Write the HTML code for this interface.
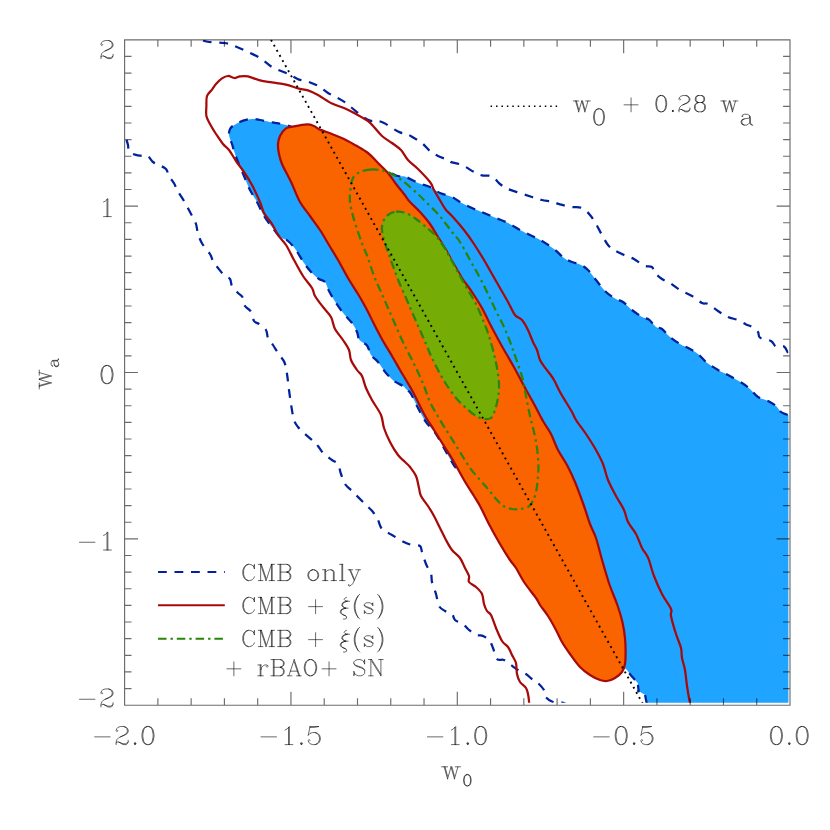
<!DOCTYPE html><html><head><meta charset="utf-8"><title>w0-wa contours</title>
<style>html,body{margin:0;padding:0;background:#fff;font-family:"Liberation Sans",sans-serif}svg{display:block}</style></head><body>
<svg width="830" height="830" viewBox="0 0 830 830">
<rect width="830" height="830" fill="#fff"/>
<defs><clipPath id="cp"><rect x="124.6" y="39.8" width="663.8" height="663.0"/></clipPath></defs>
<g clip-path="url(#cp)" fill="none" stroke-linejoin="round">
<path d="M229.0 135.0 C228.7 132.4 229.2 130.2 230.4 128.4 C231.6 126.6 233.7 125.3 236.0 124.0 C238.3 122.7 241.3 121.2 244.0 120.4 C246.7 119.6 249.3 119.1 252.0 119.0 C254.7 118.9 256.7 119.4 260.0 120.0 C263.3 120.6 267.7 121.6 272.0 122.4 C276.3 123.2 281.3 123.7 286.0 125.0 C290.7 126.3 294.3 127.8 300.0 130.0 C305.7 132.2 313.3 135.2 320.0 138.0 C326.7 140.8 333.3 143.3 340.0 147.0 C346.7 150.7 354.0 156.2 360.0 160.0 C366.0 163.8 371.3 168.0 376.0 170.0 C380.7 172.0 384.3 171.0 388.0 172.0 C391.7 173.0 395.0 175.2 398.0 176.0 C401.0 176.8 402.7 175.8 406.0 177.0 C409.3 178.2 414.0 181.3 418.0 183.0 C422.0 184.7 426.3 185.3 430.0 187.0 C433.7 188.7 436.3 191.3 440.0 193.0 C443.7 194.7 448.7 195.5 452.0 197.0 C455.3 198.5 456.7 200.2 460.0 202.0 C463.3 203.8 468.0 206.2 472.0 208.0 C476.0 209.8 480.0 211.3 484.0 213.0 C488.0 214.7 492.0 216.3 496.0 218.0 C500.0 219.7 504.0 221.0 508.0 223.0 C512.0 225.0 516.0 227.8 520.0 230.0 C524.0 232.2 528.3 234.2 532.0 236.0 C535.7 237.8 538.3 238.8 542.0 241.0 C545.7 243.2 550.3 246.2 554.0 249.0 C557.7 251.8 561.0 255.8 564.0 258.0 C567.0 260.2 569.3 260.9 572.0 262.0 C574.7 263.1 577.3 263.1 580.0 264.4 C582.7 265.7 585.3 267.4 588.0 270.0 C590.7 272.6 593.0 276.3 596.0 280.0 C599.0 283.7 602.7 288.8 606.0 292.0 C609.3 295.2 613.2 297.3 616.0 299.0 C618.8 300.7 620.3 300.2 623.0 302.0 C625.7 303.8 628.8 307.5 632.0 310.0 C635.2 312.5 639.2 315.4 642.0 317.0 C644.8 318.6 646.7 317.9 649.0 319.6 C651.3 321.3 653.8 325.4 656.0 327.0 C658.2 328.6 659.7 327.3 662.0 329.0 C664.3 330.7 667.0 334.5 670.0 337.0 C673.0 339.5 676.7 342.0 680.0 344.0 C683.3 346.0 687.0 347.3 690.0 349.0 C693.0 350.7 695.3 351.8 698.0 354.0 C700.7 356.2 702.7 359.3 706.0 362.0 C709.3 364.7 714.3 367.8 718.0 370.0 C721.7 372.2 724.0 372.8 728.0 375.0 C732.0 377.2 738.3 380.7 742.0 383.0 C745.7 385.3 747.3 386.7 750.0 389.0 C752.7 391.3 755.0 395.0 758.0 397.0 C761.0 399.0 765.0 399.5 768.0 401.0 C771.0 402.5 773.8 404.2 776.0 406.0 C778.2 407.8 779.3 410.6 781.0 412.0 C782.7 413.4 784.6 413.7 786.0 414.3 C787.4 414.9 788.8 415.3 789.4 415.5 C790.0 415.7 789.4 401.4 789.4 415.5 C789.4 429.6 789.4 469.2 789.4 500.0 C789.4 530.8 789.4 566.1 789.4 600.0 C789.4 633.9 789.4 686.2 789.4 703.5 C789.4 720.8 801.0 703.5 789.4 703.5 C777.8 703.5 743.7 703.5 720.0 703.5 C696.3 703.5 659.2 703.5 647.0 703.5 C634.8 703.5 647.1 703.6 647.0 703.5 C646.9 703.4 646.7 702.9 646.6 702.8 C646.5 702.7 646.9 704.1 646.6 702.8 C646.3 701.5 645.3 696.1 645.0 694.8 C644.7 693.5 646.1 695.4 645.0 694.8 C643.9 694.2 639.7 691.6 638.6 691.0 C637.5 690.4 638.7 692.3 638.6 691.0 C638.5 689.7 637.9 684.3 637.8 683.0 C637.7 681.7 638.8 684.2 637.8 683.0 C636.8 681.8 633.6 678.4 631.5 676.0 C629.4 673.6 627.2 669.1 625.0 668.4 C622.8 667.7 621.3 671.1 618.0 672.0 C614.7 672.9 610.5 676.0 605.0 674.0 C599.5 672.0 591.7 666.5 585.0 660.0 C578.3 653.5 571.7 644.2 565.0 635.0 C558.3 625.8 552.5 616.2 545.0 605.0 C537.5 593.8 527.5 579.7 520.0 568.0 C512.5 556.3 506.7 546.3 500.0 535.0 C493.3 523.7 486.2 510.2 480.0 500.0 C473.8 489.8 467.0 479.3 463.0 474.0 C459.0 468.7 457.7 469.7 456.0 468.0 C454.3 466.3 454.8 467.0 453.0 464.0 C451.2 461.0 447.8 455.0 445.0 450.0 C442.2 445.0 439.2 438.7 436.0 434.0 C432.8 429.3 429.0 426.3 426.0 422.0 C423.0 417.7 420.5 412.7 418.0 408.0 C415.5 403.3 413.0 397.2 411.0 394.0 C409.0 390.8 407.3 390.3 406.0 389.0 C404.7 387.7 405.0 387.3 403.0 386.0 C401.0 384.7 396.8 383.2 394.0 381.0 C391.2 378.8 388.7 376.2 386.0 373.0 C383.3 369.8 380.5 365.0 378.0 362.0 C375.5 359.0 372.8 357.8 371.0 355.0 C369.2 352.2 368.9 348.0 367.0 345.5 C365.1 343.0 361.2 342.2 359.5 340.0 C357.8 337.8 358.2 334.8 357.0 332.0 C355.8 329.2 354.2 326.0 352.0 323.0 C349.8 320.0 346.7 317.3 344.0 314.0 C341.3 310.7 338.5 306.8 336.0 303.0 C333.5 299.2 330.8 294.5 329.0 291.0 C327.2 287.5 326.7 284.0 325.0 282.0 C323.3 280.0 321.2 280.5 319.0 279.0 C316.8 277.5 314.5 275.7 312.0 273.0 C309.5 270.3 306.7 266.8 304.0 263.0 C301.3 259.2 298.7 253.7 296.0 250.0 C293.3 246.3 290.7 243.2 288.0 241.0 C285.3 238.8 282.7 239.3 280.0 237.0 C277.3 234.7 274.7 230.5 272.0 227.0 C269.3 223.5 266.5 220.2 264.0 216.0 C261.5 211.8 259.3 206.3 257.0 202.0 C254.7 197.7 252.2 194.3 250.0 190.0 C247.8 185.7 246.0 180.7 244.0 176.0 C242.0 171.3 239.6 166.0 238.0 162.0 C236.4 158.0 235.4 155.0 234.4 152.0 C233.4 149.0 232.9 146.8 232.0 144.0 C231.1 141.2 229.3 137.6 229.0 135.0Z" fill="#1fa5ff" stroke="none"/>
<path d="M456.0 468.0 C455.5 467.3 454.8 467.0 453.0 464.0 C451.2 461.0 447.8 455.0 445.0 450.0 C442.2 445.0 439.2 438.7 436.0 434.0 C432.8 429.3 429.0 426.3 426.0 422.0 C423.0 417.7 420.5 412.7 418.0 408.0 C415.5 403.3 413.0 397.2 411.0 394.0 C409.0 390.8 407.3 390.3 406.0 389.0 C404.7 387.7 405.0 387.3 403.0 386.0 C401.0 384.7 396.8 383.2 394.0 381.0 C391.2 378.8 388.7 376.2 386.0 373.0 C383.3 369.8 380.5 365.0 378.0 362.0 C375.5 359.0 372.8 357.8 371.0 355.0 C369.2 352.2 368.9 348.0 367.0 345.5 C365.1 343.0 361.2 342.2 359.5 340.0 C357.8 337.8 358.2 334.8 357.0 332.0 C355.8 329.2 354.2 326.0 352.0 323.0 C349.8 320.0 346.7 317.3 344.0 314.0 C341.3 310.7 338.5 306.8 336.0 303.0 C333.5 299.2 330.8 294.5 329.0 291.0 C327.2 287.5 326.7 284.0 325.0 282.0 C323.3 280.0 321.2 280.5 319.0 279.0 C316.8 277.5 314.5 275.7 312.0 273.0 C309.5 270.3 306.7 266.8 304.0 263.0 C301.3 259.2 298.7 253.7 296.0 250.0 C293.3 246.3 290.7 243.2 288.0 241.0 C285.3 238.8 282.7 239.3 280.0 237.0 C277.3 234.7 274.7 230.5 272.0 227.0 C269.3 223.5 266.5 220.2 264.0 216.0 C261.5 211.8 259.3 206.3 257.0 202.0 C254.7 197.7 252.2 194.3 250.0 190.0 C247.8 185.7 246.0 180.7 244.0 176.0 C242.0 171.3 239.6 166.0 238.0 162.0 C236.4 158.0 235.4 155.0 234.4 152.0 C233.4 149.0 232.9 146.8 232.0 144.0 C231.1 141.2 229.3 137.6 229.0 135.0 C228.7 132.4 229.2 130.2 230.4 128.4 C231.6 126.6 233.7 125.3 236.0 124.0 C238.3 122.7 241.3 121.2 244.0 120.4 C246.7 119.6 249.3 119.1 252.0 119.0 C254.7 118.9 256.7 119.4 260.0 120.0 C263.3 120.6 267.7 121.6 272.0 122.4 C276.3 123.2 281.3 123.7 286.0 125.0 C290.7 126.3 294.3 127.8 300.0 130.0 C305.7 132.2 313.3 135.2 320.0 138.0 C326.7 140.8 333.3 143.3 340.0 147.0 C346.7 150.7 354.0 156.2 360.0 160.0 C366.0 163.8 371.3 168.0 376.0 170.0 C380.7 172.0 384.3 171.0 388.0 172.0 C391.7 173.0 395.0 175.2 398.0 176.0 C401.0 176.8 402.7 175.8 406.0 177.0 C409.3 178.2 414.0 181.3 418.0 183.0 C422.0 184.7 426.3 185.3 430.0 187.0 C433.7 188.7 436.3 191.3 440.0 193.0 C443.7 194.7 448.7 195.5 452.0 197.0 C455.3 198.5 456.7 200.2 460.0 202.0 C463.3 203.8 468.0 206.2 472.0 208.0 C476.0 209.8 480.0 211.3 484.0 213.0 C488.0 214.7 492.0 216.3 496.0 218.0 C500.0 219.7 504.0 221.0 508.0 223.0 C512.0 225.0 516.0 227.8 520.0 230.0 C524.0 232.2 528.3 234.2 532.0 236.0 C535.7 237.8 538.3 238.8 542.0 241.0 C545.7 243.2 550.3 246.2 554.0 249.0 C557.7 251.8 561.0 255.8 564.0 258.0 C567.0 260.2 569.3 260.9 572.0 262.0 C574.7 263.1 577.3 263.1 580.0 264.4 C582.7 265.7 585.3 267.4 588.0 270.0 C590.7 272.6 593.0 276.3 596.0 280.0 C599.0 283.7 602.7 288.8 606.0 292.0 C609.3 295.2 613.2 297.3 616.0 299.0 C618.8 300.7 620.3 300.2 623.0 302.0 C625.7 303.8 628.8 307.5 632.0 310.0 C635.2 312.5 639.2 315.4 642.0 317.0 C644.8 318.6 646.7 317.9 649.0 319.6 C651.3 321.3 653.8 325.4 656.0 327.0 C658.2 328.6 659.7 327.3 662.0 329.0 C664.3 330.7 667.0 334.5 670.0 337.0 C673.0 339.5 676.7 342.0 680.0 344.0 C683.3 346.0 687.0 347.3 690.0 349.0 C693.0 350.7 695.3 351.8 698.0 354.0 C700.7 356.2 702.7 359.3 706.0 362.0 C709.3 364.7 714.3 367.8 718.0 370.0 C721.7 372.2 724.0 372.8 728.0 375.0 C732.0 377.2 738.3 380.7 742.0 383.0 C745.7 385.3 747.3 386.7 750.0 389.0 C752.7 391.3 755.0 395.0 758.0 397.0 C761.0 399.0 765.0 399.5 768.0 401.0 C771.0 402.5 773.8 404.2 776.0 406.0 C778.2 407.8 779.3 410.6 781.0 412.0 C782.7 413.4 784.6 413.7 786.0 414.3 C787.4 414.9 788.8 415.3 789.4 415.5 C790.0 415.7 789.4 415.5 789.4 415.5" stroke="#00229c" stroke-width="2.25" stroke-dasharray="8.8 7.7"/>
<path d="M646.6 702.8 C646.6 702.8 646.9 704.1 646.6 702.8 C646.3 701.5 645.3 696.1 645.0 694.8 C644.7 693.5 646.1 695.4 645.0 694.8 C643.9 694.2 639.7 691.6 638.6 691.0 C637.5 690.4 638.7 692.3 638.6 691.0 C638.5 689.7 637.9 684.3 637.8 683.0 C637.7 681.7 638.8 684.2 637.8 683.0 C636.8 681.8 633.6 678.4 631.5 676.0 C629.4 673.6 626.1 669.7 625.0 668.4" stroke="#00229c" stroke-width="2.25" stroke-dasharray="8.8 7.7"/>
<path d="M203.0 40.5 C204.0 40.8 205.5 41.6 209.0 42.0 C212.5 42.4 220.2 42.5 224.0 43.0 C227.8 43.5 228.7 43.8 232.0 45.0 C235.3 46.2 239.3 47.8 244.0 50.0 C248.7 52.2 255.3 55.2 260.0 58.0 C264.7 60.8 267.7 64.5 272.0 67.0 C276.3 69.5 282.7 71.5 286.0 73.0 C289.3 74.5 289.8 74.9 292.0 76.0 C294.2 77.1 296.7 78.8 299.0 79.6 C301.3 80.4 303.5 80.3 306.0 81.0 C308.5 81.7 311.7 83.0 314.0 84.0 C316.3 85.0 317.7 85.5 320.0 87.0 C322.3 88.5 325.3 91.3 328.0 93.0 C330.7 94.7 333.3 95.6 336.0 97.0 C338.7 98.4 341.3 99.8 344.0 101.6 C346.7 103.4 349.0 105.6 352.0 108.0 C355.0 110.4 359.0 113.9 362.0 116.0 C365.0 118.1 367.7 119.9 370.0 120.6 C372.3 121.3 373.7 120.0 376.0 120.4 C378.3 120.8 381.3 121.7 384.0 123.0 C386.7 124.3 389.3 126.4 392.0 128.0 C394.7 129.6 397.5 131.4 400.0 132.4 C402.5 133.4 404.7 133.1 407.0 134.0 C409.3 134.9 411.5 136.5 414.0 138.0 C416.5 139.5 419.3 140.8 422.0 143.0 C424.7 145.2 427.3 148.8 430.0 151.0 C432.7 153.2 435.0 154.5 438.0 156.0 C441.0 157.5 445.7 158.9 448.0 160.0 C450.3 161.1 449.7 161.6 452.0 162.4 C454.3 163.2 458.3 163.4 462.0 165.0 C465.7 166.6 470.7 170.3 474.0 172.0 C477.3 173.7 479.0 174.7 482.0 175.4 C485.0 176.1 489.0 175.0 492.0 176.4 C495.0 177.8 497.3 181.9 500.0 184.0 C502.7 186.1 504.7 187.5 508.0 189.0 C511.3 190.5 516.0 191.7 520.0 193.0 C524.0 194.3 528.3 195.8 532.0 197.0 C535.7 198.2 538.7 199.2 542.0 200.0 C545.3 200.8 549.0 200.9 552.0 201.6 C555.0 202.3 556.7 203.5 560.0 204.4 C563.3 205.3 568.3 206.4 572.0 207.0 C575.7 207.6 579.0 206.7 582.0 208.0 C585.0 209.3 587.7 212.3 590.0 215.0 C592.3 217.7 594.0 220.7 596.0 224.0 C598.0 227.3 600.0 231.5 602.0 235.0 C604.0 238.5 606.0 242.5 608.0 245.0 C610.0 247.5 611.3 248.3 614.0 250.0 C616.7 251.7 620.7 253.5 624.0 255.0 C627.3 256.5 630.7 257.2 634.0 259.0 C637.3 260.8 641.0 264.3 644.0 265.6 C647.0 266.9 650.3 265.9 652.0 267.0 C653.7 268.1 652.7 270.4 654.4 272.4 C656.1 274.4 659.4 277.2 662.0 279.0 C664.6 280.8 667.0 281.2 670.0 283.0 C673.0 284.8 676.3 287.8 680.0 290.0 C683.7 292.2 688.3 293.8 692.0 296.0 C695.7 298.2 699.3 301.7 702.0 303.0 C704.7 304.3 705.3 302.7 708.0 304.0 C710.7 305.3 714.7 308.8 718.0 311.0 C721.3 313.2 724.7 315.5 728.0 317.0 C731.3 318.5 735.0 318.8 738.0 320.0 C741.0 321.2 743.7 323.2 746.0 324.4 C748.3 325.6 750.0 325.7 752.0 327.0 C754.0 328.3 756.7 330.2 758.0 332.0 C759.3 333.8 757.8 336.1 760.0 337.6 C762.2 339.1 768.3 339.5 771.0 341.0 C773.7 342.5 773.8 345.6 776.0 346.5 C778.2 347.4 782.0 345.4 784.0 346.5 C786.0 347.6 787.1 351.4 788.0 353.0 C788.9 354.6 789.2 355.5 789.5 356.0" stroke="#00229c" stroke-width="2.25" stroke-dasharray="8.8 7.7"/>
<path d="M126.5 140.0 C126.8 140.8 127.5 143.0 128.0 145.0 C128.5 147.0 127.8 150.2 129.6 152.0 C131.4 153.8 136.1 155.0 139.0 155.6 C141.9 156.2 144.7 154.3 147.0 155.4 C149.3 156.5 151.0 160.4 153.0 162.0 C155.0 163.6 156.8 163.8 159.0 165.0 C161.2 166.2 164.3 167.2 166.0 169.0 C167.7 170.8 167.6 173.5 169.0 176.0 C170.4 178.5 173.1 181.7 174.4 184.0 C175.7 186.3 175.4 187.2 177.0 190.0 C178.6 192.8 181.8 197.3 184.0 201.0 C186.2 204.7 188.0 208.2 190.0 212.0 C192.0 215.8 194.7 220.3 196.0 224.0 C197.3 227.7 196.9 230.7 198.0 234.0 C199.1 237.3 200.4 240.7 202.4 244.0 C204.4 247.3 208.2 251.2 210.0 254.0 C211.8 256.8 211.7 258.7 213.0 261.0 C214.3 263.3 216.2 265.7 218.0 268.0 C219.8 270.3 222.0 273.2 224.0 275.0 C226.0 276.8 228.7 277.2 230.0 279.0 C231.3 280.8 230.7 283.7 232.0 286.0 C233.3 288.3 236.3 291.2 238.0 293.0 C239.7 294.8 241.2 294.8 242.4 297.0 C243.6 299.2 243.6 303.6 245.0 306.0 C246.4 308.4 249.5 309.1 251.0 311.6 C252.5 314.1 252.7 318.9 254.0 321.0 C255.3 323.1 257.0 322.5 259.0 324.0 C261.0 325.5 264.5 327.7 266.0 330.0 C267.5 332.3 266.8 335.5 268.0 338.0 C269.2 340.5 271.2 342.2 273.0 345.0 C274.8 347.8 277.1 351.6 279.0 354.5 C280.9 357.4 283.2 359.2 284.5 362.5 C285.8 365.8 286.2 369.4 287.0 374.0 C287.8 378.6 288.3 385.0 289.0 390.0 C289.7 395.0 290.2 399.0 291.0 404.0 C291.8 409.0 292.8 416.2 294.0 420.0 C295.2 423.8 296.2 424.7 298.0 427.0 C299.8 429.3 302.5 431.7 305.0 434.0 C307.5 436.3 310.8 439.0 313.0 441.0 C315.2 443.0 316.2 443.8 318.0 446.0 C319.8 448.2 321.7 451.7 324.0 454.0 C326.3 456.3 329.7 458.3 332.0 460.0 C334.3 461.7 336.5 461.7 338.0 464.0 C339.5 466.3 339.8 470.7 341.0 474.0 C342.2 477.3 343.2 481.2 345.0 484.0 C346.8 486.8 348.8 487.8 352.0 491.0 C355.2 494.2 360.5 499.5 364.0 503.0 C367.5 506.5 370.7 509.2 373.0 512.0 C375.3 514.8 376.5 517.2 378.0 520.0 C379.5 522.8 379.7 526.5 382.0 529.0 C384.3 531.5 388.3 532.8 392.0 535.0 C395.7 537.2 400.7 540.3 404.0 542.0 C407.3 543.7 409.3 544.3 412.0 545.0 C414.7 545.7 418.3 544.8 420.0 546.0 C421.7 547.2 421.0 549.0 422.0 552.0 C423.0 555.0 424.5 560.3 426.0 564.0 C427.5 567.7 430.0 571.0 431.0 574.0 C432.0 577.0 431.2 578.7 432.0 582.0 C432.8 585.3 434.8 590.0 436.0 594.0 C437.2 598.0 437.5 603.2 439.0 606.0 C440.5 608.8 442.8 609.7 445.0 611.0 C447.2 612.3 450.3 612.5 452.0 614.0 C453.7 615.5 453.2 618.3 455.0 620.0 C456.8 621.7 460.8 622.5 463.0 624.0 C465.2 625.5 465.8 627.2 468.0 629.0 C470.2 630.8 473.7 633.9 476.0 635.0 C478.3 636.1 479.8 634.8 482.0 635.6 C484.2 636.4 487.2 637.9 489.0 640.0 C490.8 642.1 491.7 644.8 493.0 648.0 C494.3 651.2 495.2 657.0 497.0 659.0 C498.8 661.0 501.7 659.0 504.0 660.0 C506.3 661.0 508.7 663.3 511.0 665.0 C513.3 666.7 515.5 668.5 518.0 670.0 C520.5 671.5 523.5 672.3 526.0 674.0 C528.5 675.7 531.0 678.5 533.0 680.0 C535.0 681.5 536.2 681.3 538.0 683.0 C539.8 684.7 542.7 687.7 544.0 690.0 C545.3 692.3 544.1 695.0 545.6 697.0 C547.1 699.0 550.4 701.1 553.0 702.0 C555.6 702.9 558.8 702.1 561.0 702.4 C563.2 702.7 565.2 703.7 566.0 704.0" stroke="#00229c" stroke-width="2.25" stroke-dasharray="8.8 7.7"/>
<path d="M278.0 144.0 C278.2 141.0 278.7 138.6 280.0 136.0 C281.3 133.4 283.7 130.0 286.0 128.4 C288.3 126.8 290.5 127.1 294.0 126.4 C297.5 125.7 303.7 124.5 307.0 124.4 C310.3 124.3 311.8 125.1 314.0 126.0 C316.2 126.9 317.0 128.3 320.0 129.6 C323.0 130.9 328.0 132.4 332.0 134.0 C336.0 135.6 340.0 137.1 344.0 139.0 C348.0 140.9 352.0 143.3 356.0 145.6 C360.0 147.9 364.3 150.1 368.0 153.0 C371.7 155.9 374.7 159.7 378.0 163.0 C381.3 166.3 385.0 169.5 388.0 173.0 C391.0 176.5 393.3 180.5 396.0 184.0 C398.7 187.5 401.7 191.0 404.0 194.0 C406.3 197.0 407.3 199.0 410.0 202.0 C412.7 205.0 416.7 208.3 420.0 212.0 C423.3 215.7 427.0 219.8 430.0 224.0 C433.0 228.2 435.3 232.7 438.0 237.0 C440.7 241.3 443.7 246.0 446.0 250.0 C448.3 254.0 449.3 256.3 452.0 261.0 C454.7 265.7 458.7 272.8 462.0 278.0 C465.3 283.2 468.7 287.0 472.0 292.0 C475.3 297.0 479.0 302.7 482.0 308.0 C485.0 313.3 487.2 318.7 490.0 324.0 C492.8 329.3 495.7 334.8 498.5 340.0 C501.3 345.2 504.2 350.2 507.0 355.0 C509.8 359.8 512.2 363.8 515.0 369.0 C517.8 374.2 520.8 380.2 524.0 386.0 C527.2 391.8 530.8 398.2 534.0 404.0 C537.2 409.8 540.2 416.0 543.0 421.0 C545.8 426.0 548.5 429.2 551.0 434.0 C553.5 438.8 555.3 444.8 558.0 450.0 C560.7 455.2 564.2 459.7 567.0 465.0 C569.8 470.3 572.2 475.2 575.0 482.0 C577.8 488.8 581.5 499.0 584.0 506.0 C586.5 513.0 588.0 518.7 590.0 524.0 C592.0 529.3 594.1 532.3 596.0 538.0 C597.9 543.7 600.0 552.7 601.5 558.0 C603.0 563.3 603.6 565.3 605.0 570.0 C606.4 574.7 608.0 580.3 610.0 586.0 C612.0 591.7 614.9 598.0 617.0 604.0 C619.1 610.0 621.1 616.3 622.4 622.0 C623.7 627.7 624.5 633.0 625.0 638.0 C625.5 643.0 625.6 647.7 625.6 652.0 C625.6 656.3 625.6 660.7 625.0 664.0 C624.4 667.3 623.7 669.7 622.0 672.0 C620.3 674.3 617.5 676.5 615.0 678.0 C612.5 679.5 609.5 680.7 607.0 681.0 C604.5 681.3 602.8 681.0 600.0 680.0 C597.2 679.0 593.3 677.2 590.0 675.0 C586.7 672.8 583.3 670.5 580.0 667.0 C576.7 663.5 573.0 658.2 570.0 654.0 C567.0 649.8 564.3 646.0 562.0 642.0 C559.7 638.0 558.3 634.3 556.0 630.0 C553.7 625.7 550.7 620.2 548.0 616.0 C545.3 611.8 542.0 608.0 540.0 605.0 C538.0 602.0 538.7 601.8 536.0 598.0 C533.3 594.2 527.3 587.0 524.0 582.0 C520.7 577.0 518.3 571.7 516.0 568.0 C513.7 564.3 512.7 564.0 510.0 560.0 C507.3 556.0 503.3 549.7 500.0 544.0 C496.7 538.3 493.3 532.3 490.0 526.0 C486.7 519.7 482.7 511.0 480.0 506.0 C477.3 501.0 476.7 500.3 474.0 496.0 C471.3 491.7 467.3 485.7 464.0 480.0 C460.7 474.3 457.3 467.7 454.0 462.0 C450.7 456.3 447.3 451.3 444.0 446.0 C440.7 440.7 437.3 435.3 434.0 430.0 C430.7 424.7 427.3 420.0 424.0 414.0 C420.7 408.0 417.0 399.7 414.0 394.0 C411.0 388.3 408.3 384.0 406.0 380.0 C403.7 376.0 402.3 374.0 400.0 370.0 C397.7 366.0 394.8 360.8 392.0 356.0 C389.2 351.2 386.0 346.3 383.0 341.0 C380.0 335.7 376.8 329.5 374.0 324.0 C371.2 318.5 368.7 313.0 366.0 308.0 C363.3 303.0 361.0 299.0 358.0 294.0 C355.0 289.0 351.3 283.7 348.0 278.0 C344.7 272.3 341.2 265.5 338.0 260.0 C334.8 254.5 332.0 250.0 329.0 245.0 C326.0 240.0 323.2 234.8 320.0 230.0 C316.8 225.2 313.3 220.7 310.0 216.0 C306.7 211.3 303.0 207.3 300.0 202.0 C297.0 196.7 294.3 189.0 292.0 184.0 C289.7 179.0 287.7 175.3 286.0 172.0 C284.3 168.7 283.2 167.0 282.0 164.0 C280.8 161.0 279.7 157.3 279.0 154.0 C278.3 150.7 277.8 147.0 278.0 144.0Z" fill="#f96400" stroke="#a80a0a" stroke-width="2.25"/>
<path d="M529.0 706.0 C529.0 705.2 529.2 703.0 529.0 701.0 C528.8 699.0 528.5 696.2 528.0 694.0 C527.5 691.8 527.3 690.0 526.0 688.0 C524.7 686.0 521.5 684.3 520.0 682.0 C518.5 679.7 517.7 677.2 517.0 674.0 C516.3 670.8 516.8 666.2 516.0 663.0 C515.2 659.8 513.3 657.7 512.0 655.0 C510.7 652.3 509.7 649.3 508.0 647.0 C506.3 644.7 504.0 644.2 502.0 641.0 C500.0 637.8 497.8 632.3 496.0 628.0 C494.2 623.7 492.5 617.8 491.0 615.0 C489.5 612.2 488.2 612.8 487.0 611.0 C485.8 609.2 484.8 606.8 484.0 604.0 C483.2 601.2 483.3 596.8 482.0 594.0 C480.7 591.2 478.2 589.0 476.0 587.0 C473.8 585.0 470.2 583.8 469.0 582.0 C467.8 580.2 469.7 578.3 469.0 576.0 C468.3 573.7 466.5 571.0 465.0 568.0 C463.5 565.0 462.2 561.0 460.0 558.0 C457.8 555.0 454.3 553.0 452.0 550.0 C449.7 547.0 448.0 543.7 446.0 540.0 C444.0 536.3 442.0 532.0 440.0 528.0 C438.0 524.0 436.0 519.7 434.0 516.0 C432.0 512.3 430.2 509.3 428.0 506.0 C425.8 502.7 422.5 499.0 421.0 496.0 C419.5 493.0 419.8 491.3 419.0 488.0 C418.2 484.7 417.5 479.5 416.0 476.0 C414.5 472.5 411.8 469.3 410.0 467.0 C408.2 464.7 407.0 464.0 405.0 462.0 C403.0 460.0 400.5 458.3 398.0 455.0 C395.5 451.7 392.3 446.5 390.0 442.0 C387.7 437.5 385.5 432.5 384.0 428.0 C382.5 423.5 383.0 419.7 381.0 415.0 C379.0 410.3 374.5 404.5 372.0 400.0 C369.5 395.5 367.7 392.0 366.0 388.0 C364.3 384.0 363.5 379.0 362.0 376.0 C360.5 373.0 358.8 372.7 357.0 370.0 C355.2 367.3 352.3 363.3 351.0 360.0 C349.7 356.7 350.3 353.3 349.0 350.0 C347.7 346.7 345.3 343.5 343.0 340.0 C340.7 336.5 337.0 332.8 335.0 329.0 C333.0 325.2 333.0 320.7 331.0 317.0 C329.0 313.3 325.7 310.5 323.0 307.0 C320.3 303.5 316.8 299.2 315.0 296.0 C313.2 292.8 314.0 291.3 312.0 288.0 C310.0 284.7 306.0 280.7 303.0 276.0 C300.0 271.3 296.8 265.2 294.0 260.0 C291.2 254.8 288.7 249.2 286.0 245.0 C283.3 240.8 280.3 238.5 278.0 235.0 C275.7 231.5 274.3 227.7 272.0 224.0 C269.7 220.3 266.0 216.7 264.0 213.0 C262.0 209.3 262.0 206.7 260.0 202.0 C258.0 197.3 254.7 190.0 252.0 185.0 C249.3 180.0 246.7 176.0 244.0 172.0 C241.3 168.0 238.5 164.7 236.0 161.0 C233.5 157.3 231.2 152.8 229.0 150.0 C226.8 147.2 225.2 146.7 223.0 144.0 C220.8 141.3 218.2 137.3 216.0 134.0 C213.8 130.7 211.6 127.0 210.0 124.0 C208.4 121.0 207.0 119.0 206.4 116.0 C205.8 113.0 206.3 109.3 206.4 106.0 C206.5 102.7 206.1 98.7 207.0 96.0 C207.9 93.3 210.5 91.6 212.0 89.6 C213.5 87.6 214.3 85.9 216.0 84.0 C217.7 82.1 220.0 79.7 222.0 78.4 C224.0 77.1 225.9 76.1 228.0 76.0 C230.1 75.9 232.4 77.9 234.4 78.0 C236.4 78.1 237.7 76.7 240.0 76.4 C242.3 76.1 244.7 75.7 248.0 76.4 C251.3 77.1 256.0 79.4 260.0 80.4 C264.0 81.4 267.7 81.7 272.0 82.4 C276.3 83.1 281.7 83.6 286.0 84.6 C290.3 85.6 294.3 87.4 298.0 88.4 C301.7 89.4 304.7 89.3 308.0 90.4 C311.3 91.5 314.0 92.8 318.0 95.0 C322.0 97.2 327.7 101.4 332.0 103.6 C336.3 105.8 340.0 106.3 344.0 108.0 C348.0 109.7 352.0 111.8 356.0 114.0 C360.0 116.2 365.0 118.8 368.0 121.0 C371.0 123.2 371.7 124.5 374.0 127.0 C376.3 129.5 379.0 133.3 382.0 136.0 C385.0 138.7 388.8 140.7 392.0 143.0 C395.2 145.3 398.3 147.2 401.0 150.0 C403.7 152.8 405.2 156.8 408.0 160.0 C410.8 163.2 414.3 165.3 418.0 169.0 C421.7 172.7 427.3 178.5 430.0 182.0 C432.7 185.5 432.2 186.7 434.0 190.0 C435.8 193.3 439.0 198.7 441.0 202.0 C443.0 205.3 444.2 207.7 446.0 210.0 C447.8 212.3 449.0 212.7 452.0 216.0 C455.0 219.3 460.3 225.3 464.0 230.0 C467.7 234.7 470.7 239.0 474.0 244.0 C477.3 249.0 481.0 255.0 484.0 260.0 C487.0 265.0 489.3 269.3 492.0 274.0 C494.7 278.7 497.3 283.3 500.0 288.0 C502.7 292.7 505.5 297.5 508.0 302.0 C510.5 306.5 512.7 312.0 515.0 315.0 C517.3 318.0 519.8 317.5 522.0 320.0 C524.2 322.5 526.2 326.3 528.0 330.0 C529.8 333.7 531.5 338.7 533.0 342.0 C534.5 345.3 535.8 347.0 537.0 350.0 C538.2 353.0 538.7 357.1 540.0 360.0 C541.3 362.9 543.3 365.3 545.0 367.6 C546.7 369.9 548.5 371.9 550.0 374.0 C551.5 376.1 552.3 377.0 554.0 380.0 C555.7 383.0 558.0 388.3 560.0 392.0 C562.0 395.7 564.0 398.7 566.0 402.0 C568.0 405.3 570.3 409.0 572.0 412.0 C573.7 415.0 573.7 416.3 576.0 420.0 C578.3 423.7 582.7 429.0 586.0 434.0 C589.3 439.0 593.2 445.0 596.0 450.0 C598.8 455.0 601.0 459.0 603.0 464.0 C605.0 469.0 605.8 474.7 608.0 480.0 C610.2 485.3 613.3 491.0 616.0 496.0 C618.7 501.0 622.0 505.7 624.0 510.0 C626.0 514.3 626.0 518.0 628.0 522.0 C630.0 526.0 633.7 529.7 636.0 534.0 C638.3 538.3 640.3 544.7 642.0 548.0 C643.7 551.3 644.8 552.0 646.0 554.0 C647.2 556.0 647.7 556.3 649.0 560.0 C650.3 563.7 651.8 570.3 654.0 576.0 C656.2 581.7 659.2 588.5 662.0 594.0 C664.8 599.5 669.5 605.3 671.0 609.0 C672.5 612.7 670.2 611.8 671.0 616.0 C671.8 620.2 674.3 628.7 676.0 634.0 C677.7 639.3 680.0 644.0 681.0 648.0 C682.0 652.0 681.3 654.3 682.0 658.0 C682.7 661.7 684.2 665.3 685.0 670.0 C685.8 674.7 686.3 681.3 687.0 686.0 C687.7 690.7 688.5 695.2 689.0 698.0 C689.5 700.8 689.8 701.7 690.0 703.0 C690.2 704.3 690.4 705.5 690.5 706.0" stroke="#a80a0a" stroke-width="2.25"/>
<path d="M396.0 211.6 C399.0 211.3 402.7 211.8 406.0 213.0 C409.3 214.2 412.7 216.7 416.0 219.0 C419.3 221.3 422.7 224.2 426.0 227.0 C429.3 229.8 433.0 232.7 436.0 236.0 C439.0 239.3 441.3 242.8 444.0 247.0 C446.7 251.2 449.3 256.2 452.0 261.0 C454.7 265.8 457.3 271.2 460.0 276.0 C462.7 280.8 465.3 285.3 468.0 290.0 C470.7 294.7 473.5 299.0 476.0 304.0 C478.5 309.0 480.8 314.7 483.0 320.0 C485.2 325.3 487.2 330.3 489.0 336.0 C490.8 341.7 492.7 348.7 494.0 354.0 C495.3 359.3 496.2 363.0 497.0 368.0 C497.8 373.0 498.8 379.0 499.0 384.0 C499.2 389.0 498.7 393.7 498.0 398.0 C497.3 402.3 496.2 406.7 495.0 410.0 C493.8 413.3 492.8 416.5 491.0 418.0 C489.2 419.5 486.5 419.3 484.0 419.0 C481.5 418.7 479.0 417.8 476.0 416.0 C473.0 414.2 469.3 411.0 466.0 408.0 C462.7 405.0 459.3 402.0 456.0 398.0 C452.7 394.0 449.0 388.7 446.0 384.0 C443.0 379.3 440.5 374.7 438.0 370.0 C435.5 365.3 433.0 360.3 431.0 356.0 C429.0 351.7 428.0 348.7 426.0 344.0 C424.0 339.3 421.3 333.3 419.0 328.0 C416.7 322.7 414.2 317.0 412.0 312.0 C409.8 307.0 408.2 303.0 406.0 298.0 C403.8 293.0 401.2 287.3 399.0 282.0 C396.8 276.7 394.8 271.0 393.0 266.0 C391.2 261.0 389.5 256.3 388.0 252.0 C386.5 247.7 385.0 243.7 384.0 240.0 C383.0 236.3 382.2 233.0 382.0 230.0 C381.8 227.0 382.0 224.5 383.0 222.0 C384.0 219.5 385.8 216.7 388.0 215.0 C390.2 213.3 393.0 211.9 396.0 211.6Z" fill="#75ac06" stroke="#2a8506" stroke-width="2.25" stroke-dasharray="8.5 4.0 2.4 3.9"/>
<path d="M370.0 169.6 C373.3 169.3 376.7 169.4 380.0 170.0 C383.3 170.6 386.7 171.5 390.0 173.0 C393.3 174.5 396.7 176.7 400.0 179.0 C403.3 181.3 406.7 184.2 410.0 187.0 C413.3 189.8 417.3 193.5 420.0 196.0 C422.7 198.5 423.0 199.0 426.0 202.0 C429.0 205.0 434.7 210.3 438.0 214.0 C441.3 217.7 443.7 221.0 446.0 224.0 C448.3 227.0 449.7 229.0 452.0 232.0 C454.3 235.0 457.0 237.3 460.0 242.0 C463.0 246.7 466.7 254.0 470.0 260.0 C473.3 266.0 477.0 272.3 480.0 278.0 C483.0 283.7 485.3 288.5 488.0 294.0 C490.7 299.5 493.3 305.5 496.0 311.0 C498.7 316.5 501.6 321.7 504.0 327.0 C506.4 332.3 508.4 337.5 510.5 343.0 C512.6 348.5 514.4 353.8 516.5 360.0 C518.6 366.2 521.4 374.0 523.0 380.0 C524.6 386.0 524.8 390.0 526.0 396.0 C527.2 402.0 528.7 410.0 530.0 416.0 C531.3 422.0 532.8 426.7 534.0 432.0 C535.2 437.3 536.3 442.7 537.0 448.0 C537.7 453.3 538.2 459.3 538.4 464.0 C538.6 468.7 538.3 471.7 538.0 476.0 C537.7 480.3 537.2 485.8 536.4 490.0 C535.6 494.2 534.4 498.2 533.0 501.0 C531.6 503.8 530.2 505.7 528.0 507.0 C525.8 508.3 522.7 508.7 520.0 509.0 C517.3 509.3 514.7 509.4 512.0 509.0 C509.3 508.6 506.7 508.1 504.0 506.4 C501.3 504.7 498.7 501.9 496.0 499.0 C493.3 496.1 490.7 492.2 488.0 489.0 C485.3 485.8 483.0 483.5 480.0 480.0 C477.0 476.5 473.3 472.7 470.0 468.0 C466.7 463.3 463.3 457.3 460.0 452.0 C456.7 446.7 453.3 441.3 450.0 436.0 C446.7 430.7 443.3 425.7 440.0 420.0 C436.7 414.3 432.7 407.7 430.0 402.0 C427.3 396.3 426.3 391.7 424.0 386.0 C421.7 380.3 418.7 373.7 416.0 368.0 C413.3 362.3 410.3 356.7 408.0 352.0 C405.7 347.3 404.2 344.7 402.0 340.0 C399.8 335.3 397.3 329.3 395.0 324.0 C392.7 318.7 390.3 313.3 388.0 308.0 C385.7 302.7 383.3 297.3 381.0 292.0 C378.7 286.7 376.2 281.7 374.0 276.0 C371.8 270.3 369.8 263.0 368.0 258.0 C366.2 253.0 364.7 250.3 363.0 246.0 C361.3 241.7 359.7 237.0 358.0 232.0 C356.3 227.0 354.3 221.0 353.0 216.0 C351.7 211.0 350.4 206.3 350.0 202.0 C349.6 197.7 349.9 194.0 350.4 190.0 C350.9 186.0 351.4 181.0 353.0 178.0 C354.6 175.0 357.2 173.4 360.0 172.0 C362.8 170.6 366.7 169.9 370.0 169.6Z" stroke="#2a8506" stroke-width="2.25" stroke-dasharray="8.5 4.0 2.4 3.9"/>
<path d="M271.0 39.8 L643.6 705.2" stroke="#000" stroke-width="1.9" stroke-dasharray="1.9 3.94"/>
</g>
<path d="M124.60 39.80 H790.00 V705.20 H124.60 Z M124.60 705.20 v-13.40 M124.60 39.80 v13.40 M157.87 705.20 v-6.90 M157.87 39.80 v6.90 M191.14 705.20 v-6.90 M191.14 39.80 v6.90 M224.41 705.20 v-6.90 M224.41 39.80 v6.90 M257.68 705.20 v-6.90 M257.68 39.80 v6.90 M290.95 705.20 v-13.40 M290.95 39.80 v13.40 M324.22 705.20 v-6.90 M324.22 39.80 v6.90 M357.49 705.20 v-6.90 M357.49 39.80 v6.90 M390.76 705.20 v-6.90 M390.76 39.80 v6.90 M424.03 705.20 v-6.90 M424.03 39.80 v6.90 M457.30 705.20 v-13.40 M457.30 39.80 v13.40 M490.57 705.20 v-6.90 M490.57 39.80 v6.90 M523.84 705.20 v-6.90 M523.84 39.80 v6.90 M557.11 705.20 v-6.90 M557.11 39.80 v6.90 M590.38 705.20 v-6.90 M590.38 39.80 v6.90 M623.65 705.20 v-13.40 M623.65 39.80 v13.40 M656.92 705.20 v-6.90 M656.92 39.80 v6.90 M690.19 705.20 v-6.90 M690.19 39.80 v6.90 M723.46 705.20 v-6.90 M723.46 39.80 v6.90 M756.73 705.20 v-6.90 M756.73 39.80 v6.90 M790.00 705.20 v-13.40 M790.00 39.80 v13.40 M124.60 39.80 h13.40 M790.00 39.80 h-13.40 M124.60 56.44 h6.90 M790.00 56.44 h-6.90 M124.60 73.07 h6.90 M790.00 73.07 h-6.90 M124.60 89.71 h6.90 M790.00 89.71 h-6.90 M124.60 106.34 h6.90 M790.00 106.34 h-6.90 M124.60 122.98 h6.90 M790.00 122.98 h-6.90 M124.60 139.61 h6.90 M790.00 139.61 h-6.90 M124.60 156.25 h6.90 M790.00 156.25 h-6.90 M124.60 172.88 h6.90 M790.00 172.88 h-6.90 M124.60 189.51 h6.90 M790.00 189.51 h-6.90 M124.60 206.15 h13.40 M790.00 206.15 h-13.40 M124.60 222.79 h6.90 M790.00 222.79 h-6.90 M124.60 239.42 h6.90 M790.00 239.42 h-6.90 M124.60 256.06 h6.90 M790.00 256.06 h-6.90 M124.60 272.69 h6.90 M790.00 272.69 h-6.90 M124.60 289.33 h6.90 M790.00 289.33 h-6.90 M124.60 305.96 h6.90 M790.00 305.96 h-6.90 M124.60 322.60 h6.90 M790.00 322.60 h-6.90 M124.60 339.23 h6.90 M790.00 339.23 h-6.90 M124.60 355.87 h6.90 M790.00 355.87 h-6.90 M124.60 372.50 h13.40 M790.00 372.50 h-13.40 M124.60 389.14 h6.90 M790.00 389.14 h-6.90 M124.60 405.77 h6.90 M790.00 405.77 h-6.90 M124.60 422.41 h6.90 M790.00 422.41 h-6.90 M124.60 439.04 h6.90 M790.00 439.04 h-6.90 M124.60 455.68 h6.90 M790.00 455.68 h-6.90 M124.60 472.31 h6.90 M790.00 472.31 h-6.90 M124.60 488.95 h6.90 M790.00 488.95 h-6.90 M124.60 505.58 h6.90 M790.00 505.58 h-6.90 M124.60 522.22 h6.90 M790.00 522.22 h-6.90 M124.60 538.85 h13.40 M790.00 538.85 h-13.40 M124.60 555.49 h6.90 M790.00 555.49 h-6.90 M124.60 572.12 h6.90 M790.00 572.12 h-6.90 M124.60 588.76 h6.90 M790.00 588.76 h-6.90 M124.60 605.39 h6.90 M790.00 605.39 h-6.90 M124.60 622.03 h6.90 M790.00 622.03 h-6.90 M124.60 638.66 h6.90 M790.00 638.66 h-6.90 M124.60 655.30 h6.90 M790.00 655.30 h-6.90 M124.60 671.93 h6.90 M790.00 671.93 h-6.90 M124.60 688.57 h6.90 M790.00 688.57 h-6.90 M124.60 705.20 h13.40 M790.00 705.20 h-13.40" fill="none" stroke="#000" stroke-width="1.15" stroke-opacity="0.58"/>
<path d="M94.66 736.86 L110.14 736.86 M117.02 729.98 L117.88 730.84 L117.02 731.70 L116.16 730.84 L116.16 729.98 L117.02 728.26 L117.88 727.40 L120.46 726.54 L123.90 726.54 L126.48 727.40 L127.34 728.26 L128.20 729.98 L128.20 731.70 L127.34 733.42 L124.76 735.14 L120.46 736.86 L118.74 737.72 L117.02 739.44 L116.16 742.02 L116.16 744.60 M123.90 726.54 L125.62 727.40 L126.48 728.26 L127.34 729.98 L127.34 731.70 L126.48 733.42 L123.90 735.14 L120.46 736.86 M116.16 742.88 L117.02 742.02 L118.74 742.02 L123.04 743.74 L125.62 743.74 L127.34 742.88 L128.20 742.02 M118.74 742.02 L123.04 744.60 L126.48 744.60 L127.34 743.74 L128.20 742.02 L128.20 740.30 M135.08 742.88 L134.22 743.74 L135.08 744.60 L135.94 743.74 L135.08 742.88 M147.12 726.54 L144.54 727.40 L142.82 729.98 L141.96 734.28 L141.96 736.86 L142.82 741.16 L144.54 743.74 L147.12 744.60 L148.84 744.60 L151.42 743.74 L153.14 741.16 L154.00 736.86 L154.00 734.28 L153.14 729.98 L151.42 727.40 L148.84 726.54 L147.12 726.54 M147.12 726.54 L145.40 727.40 L144.54 728.26 L143.68 729.98 L142.82 734.28 L142.82 736.86 L143.68 741.16 L144.54 742.88 L145.40 743.74 L147.12 744.60 M148.84 744.60 L150.56 743.74 L151.42 742.88 L152.28 741.16 L153.14 736.86 L153.14 734.28 L152.28 729.98 L151.42 728.26 L150.56 727.40 L148.84 726.54 M261.01 736.86 L276.49 736.86 M285.09 729.98 L286.81 729.12 L289.39 726.54 L289.39 744.60 M288.53 727.40 L288.53 744.60 M285.09 744.60 L292.83 744.60 M301.43 742.88 L300.57 743.74 L301.43 744.60 L302.29 743.74 L301.43 742.88 M310.03 726.54 L308.31 735.14 M308.31 735.14 L310.03 733.42 L312.61 732.56 L315.19 732.56 L317.77 733.42 L319.49 735.14 L320.35 737.72 L320.35 739.44 L319.49 742.02 L317.77 743.74 L315.19 744.60 L312.61 744.60 L310.03 743.74 L309.17 742.88 L308.31 741.16 L308.31 740.30 L309.17 739.44 L310.03 740.30 L309.17 741.16 M315.19 732.56 L316.91 733.42 L318.63 735.14 L319.49 737.72 L319.49 739.44 L318.63 742.02 L316.91 743.74 L315.19 744.60 M310.03 726.54 L318.63 726.54 M310.03 727.40 L314.33 727.40 L318.63 726.54 M427.36 736.86 L442.84 736.86 M451.44 729.98 L453.16 729.12 L455.74 726.54 L455.74 744.60 M454.88 727.40 L454.88 744.60 M451.44 744.60 L459.18 744.60 M467.78 742.88 L466.92 743.74 L467.78 744.60 L468.64 743.74 L467.78 742.88 M479.82 726.54 L477.24 727.40 L475.52 729.98 L474.66 734.28 L474.66 736.86 L475.52 741.16 L477.24 743.74 L479.82 744.60 L481.54 744.60 L484.12 743.74 L485.84 741.16 L486.70 736.86 L486.70 734.28 L485.84 729.98 L484.12 727.40 L481.54 726.54 L479.82 726.54 M479.82 726.54 L478.10 727.40 L477.24 728.26 L476.38 729.98 L475.52 734.28 L475.52 736.86 L476.38 741.16 L477.24 742.88 L478.10 743.74 L479.82 744.60 M481.54 744.60 L483.26 743.74 L484.12 742.88 L484.98 741.16 L485.84 736.86 L485.84 734.28 L484.98 729.98 L484.12 728.26 L483.26 727.40 L481.54 726.54 M593.71 736.86 L609.19 736.86 M620.37 726.54 L617.79 727.40 L616.07 729.98 L615.21 734.28 L615.21 736.86 L616.07 741.16 L617.79 743.74 L620.37 744.60 L622.09 744.60 L624.67 743.74 L626.39 741.16 L627.25 736.86 L627.25 734.28 L626.39 729.98 L624.67 727.40 L622.09 726.54 L620.37 726.54 M620.37 726.54 L618.65 727.40 L617.79 728.26 L616.93 729.98 L616.07 734.28 L616.07 736.86 L616.93 741.16 L617.79 742.88 L618.65 743.74 L620.37 744.60 M622.09 744.60 L623.81 743.74 L624.67 742.88 L625.53 741.16 L626.39 736.86 L626.39 734.28 L625.53 729.98 L624.67 728.26 L623.81 727.40 L622.09 726.54 M634.13 742.88 L633.27 743.74 L634.13 744.60 L634.99 743.74 L634.13 742.88 M642.73 726.54 L641.01 735.14 M641.01 735.14 L642.73 733.42 L645.31 732.56 L647.89 732.56 L650.47 733.42 L652.19 735.14 L653.05 737.72 L653.05 739.44 L652.19 742.02 L650.47 743.74 L647.89 744.60 L645.31 744.60 L642.73 743.74 L641.87 742.88 L641.01 741.16 L641.01 740.30 L641.87 739.44 L642.73 740.30 L641.87 741.16 M647.89 732.56 L649.61 733.42 L651.33 735.14 L652.19 737.72 L652.19 739.44 L651.33 742.02 L649.61 743.74 L647.89 744.60 M642.73 726.54 L651.33 726.54 M642.73 727.40 L647.03 727.40 L651.33 726.54 M775.54 726.54 L772.96 727.40 L771.24 729.98 L770.38 734.28 L770.38 736.86 L771.24 741.16 L772.96 743.74 L775.54 744.60 L777.26 744.60 L779.84 743.74 L781.56 741.16 L782.42 736.86 L782.42 734.28 L781.56 729.98 L779.84 727.40 L777.26 726.54 L775.54 726.54 M775.54 726.54 L773.82 727.40 L772.96 728.26 L772.10 729.98 L771.24 734.28 L771.24 736.86 L772.10 741.16 L772.96 742.88 L773.82 743.74 L775.54 744.60 M777.26 744.60 L778.98 743.74 L779.84 742.88 L780.70 741.16 L781.56 736.86 L781.56 734.28 L780.70 729.98 L779.84 728.26 L778.98 727.40 L777.26 726.54 M789.30 742.88 L788.44 743.74 L789.30 744.60 L790.16 743.74 L789.30 742.88 M801.34 726.54 L798.76 727.40 L797.04 729.98 L796.18 734.28 L796.18 736.86 L797.04 741.16 L798.76 743.74 L801.34 744.60 L803.06 744.60 L805.64 743.74 L807.36 741.16 L808.22 736.86 L808.22 734.28 L807.36 729.98 L805.64 727.40 L803.06 726.54 L801.34 726.54 M801.34 726.54 L799.62 727.40 L798.76 728.26 L797.90 729.98 L797.04 734.28 L797.04 736.86 L797.90 741.16 L798.76 742.88 L799.62 743.74 L801.34 744.60 M803.06 744.60 L804.78 743.74 L805.64 742.88 L806.50 741.16 L807.36 736.86 L807.36 734.28 L806.50 729.98 L805.64 728.26 L804.78 727.40 L803.06 726.54 M101.84 43.98 L102.70 44.84 L101.84 45.70 L100.98 44.84 L100.98 43.98 L101.84 42.26 L102.70 41.40 L105.28 40.54 L108.72 40.54 L111.30 41.40 L112.16 42.26 L113.02 43.98 L113.02 45.70 L112.16 47.42 L109.58 49.14 L105.28 50.86 L103.56 51.72 L101.84 53.44 L100.98 56.02 L100.98 58.60 M108.72 40.54 L110.44 41.40 L111.30 42.26 L112.16 43.98 L112.16 45.70 L111.30 47.42 L108.72 49.14 L105.28 50.86 M100.98 56.88 L101.84 56.02 L103.56 56.02 L107.86 57.74 L110.44 57.74 L112.16 56.88 L113.02 56.02 M103.56 56.02 L107.86 58.60 L111.30 58.60 L112.16 57.74 L113.02 56.02 L113.02 54.30 M103.56 201.98 L105.28 201.12 L107.86 198.54 L107.86 216.60 M107.00 199.40 L107.00 216.60 M103.56 216.60 L111.30 216.60 M106.14 365.54 L103.56 366.40 L101.84 368.98 L100.98 373.28 L100.98 375.86 L101.84 380.16 L103.56 382.74 L106.14 383.60 L107.86 383.60 L110.44 382.74 L112.16 380.16 L113.02 375.86 L113.02 373.28 L112.16 368.98 L110.44 366.40 L107.86 365.54 L106.14 365.54 M106.14 365.54 L104.42 366.40 L103.56 367.26 L102.70 368.98 L101.84 373.28 L101.84 375.86 L102.70 380.16 L103.56 381.88 L104.42 382.74 L106.14 383.60 M107.86 383.60 L109.58 382.74 L110.44 381.88 L111.30 380.16 L112.16 375.86 L112.16 373.28 L111.30 368.98 L110.44 367.26 L109.58 366.40 L107.86 365.54 M79.48 542.26 L94.96 542.26 M103.56 535.38 L105.28 534.52 L107.86 531.94 L107.86 550.00 M107.00 532.80 L107.00 550.00 M103.56 550.00 L111.30 550.00 M79.48 699.26 L94.96 699.26 M101.84 692.38 L102.70 693.24 L101.84 694.10 L100.98 693.24 L100.98 692.38 L101.84 690.66 L102.70 689.80 L105.28 688.94 L108.72 688.94 L111.30 689.80 L112.16 690.66 L113.02 692.38 L113.02 694.10 L112.16 695.82 L109.58 697.54 L105.28 699.26 L103.56 700.12 L101.84 701.84 L100.98 704.42 L100.98 707.00 M108.72 688.94 L110.44 689.80 L111.30 690.66 L112.16 692.38 L112.16 694.10 L111.30 695.82 L108.72 697.54 L105.28 699.26 M100.98 705.28 L101.84 704.42 L103.56 704.42 L107.86 706.14 L110.44 706.14 L112.16 705.28 L113.02 704.42 M103.56 704.42 L107.86 707.00 L111.30 707.00 L112.16 706.14 L113.02 704.42 L113.02 702.70 M444.14 766.81 L447.58 778.85 M445.00 766.81 L447.58 776.27 M451.02 766.81 L447.58 778.85 M451.02 766.81 L454.46 778.85 M451.88 766.81 L454.46 776.27 M457.90 766.81 L454.46 778.85 M441.56 766.81 L447.58 766.81 M455.32 766.81 L460.48 766.81 M466.84 774.65 L465.24 775.19 L464.17 776.79 L463.64 779.45 L463.64 781.05 L464.17 783.72 L465.24 785.32 L466.84 785.85 L467.91 785.85 L469.50 785.32 L470.57 783.72 L471.10 781.05 L471.10 779.45 L470.57 776.79 L469.50 775.19 L467.91 774.65 L466.84 774.65 M466.84 774.65 L465.77 775.19 L465.24 775.72 L464.71 776.79 L464.17 779.45 L464.17 781.05 L464.71 783.72 L465.24 784.78 L465.77 785.32 L466.84 785.85 M467.91 785.85 L468.97 785.32 L469.50 784.78 L470.04 783.72 L470.57 781.05 L470.57 779.45 L470.04 776.79 L469.50 775.72 L468.97 775.19 L467.91 774.65 M253.66 566.67 L254.43 568.99 L254.43 564.35 L253.66 566.67 L252.11 565.12 L249.79 564.35 L248.24 564.35 L245.92 565.12 L244.37 566.67 L243.60 568.22 L242.82 570.54 L242.82 574.41 L243.60 576.73 L244.37 578.28 L245.92 579.83 L248.24 580.60 L249.79 580.60 L252.11 579.83 L253.66 578.28 L254.43 576.73 M248.24 564.35 L246.69 565.12 L245.14 566.67 L244.37 568.22 L243.60 570.54 L243.60 574.41 L244.37 576.73 L245.14 578.28 L246.69 579.83 L248.24 580.60 M260.62 564.35 L260.62 580.60 M261.40 564.35 L266.04 578.28 M260.62 564.35 L266.04 580.60 M271.46 564.35 L266.04 580.60 M271.46 564.35 L271.46 580.60 M272.23 564.35 L272.23 580.60 M258.30 564.35 L261.40 564.35 M271.46 564.35 L274.56 564.35 M258.30 580.60 L262.95 580.60 M269.14 580.60 L274.56 580.60 M279.97 564.35 L279.97 580.60 M280.75 564.35 L280.75 580.60 M277.65 564.35 L286.94 564.35 L289.26 565.12 L290.04 565.89 L290.81 567.44 L290.81 568.99 L290.04 570.54 L289.26 571.31 L286.94 572.09 M286.94 564.35 L288.49 565.12 L289.26 565.89 L290.04 567.44 L290.04 568.99 L289.26 570.54 L288.49 571.31 L286.94 572.09 M280.75 572.09 L286.94 572.09 L289.26 572.86 L290.04 573.63 L290.81 575.18 L290.81 577.50 L290.04 579.05 L289.26 579.83 L286.94 580.60 L277.65 580.60 M286.94 572.09 L288.49 572.86 L289.26 573.63 L290.04 575.18 L290.04 577.50 L289.26 579.05 L288.49 579.83 L286.94 580.60 M312.48 569.76 L310.16 570.54 L308.61 572.09 L307.84 574.41 L307.84 575.96 L308.61 578.28 L310.16 579.83 L312.48 580.60 L314.03 580.60 L316.35 579.83 L317.90 578.28 L318.67 575.96 L318.67 574.41 L317.90 572.09 L316.35 570.54 L314.03 569.76 L312.48 569.76 M312.48 569.76 L310.93 570.54 L309.39 572.09 L308.61 574.41 L308.61 575.96 L309.39 578.28 L310.93 579.83 L312.48 580.60 M314.03 580.60 L315.58 579.83 L317.13 578.28 L317.90 575.96 L317.90 574.41 L317.13 572.09 L315.58 570.54 L314.03 569.76 M324.87 569.76 L324.87 580.60 M325.64 569.76 L325.64 580.60 M325.64 572.09 L327.19 570.54 L329.51 569.76 L331.06 569.76 L333.38 570.54 L334.15 572.09 L334.15 580.60 M331.06 569.76 L332.61 570.54 L333.38 572.09 L333.38 580.60 M322.54 569.76 L325.64 569.76 M322.54 580.60 L327.96 580.60 M331.06 580.60 L336.48 580.60 M341.89 564.35 L341.89 580.60 M342.67 564.35 L342.67 580.60 M339.57 564.35 L342.67 564.35 M339.57 580.60 L344.99 580.60 M349.63 569.76 L354.28 580.60 M350.41 569.76 L354.28 579.05 M358.92 569.76 L354.28 580.60 L352.73 583.70 L351.18 585.24 L349.63 586.02 L348.86 586.02 L348.09 585.24 L348.86 584.47 L349.63 585.24 M348.09 569.76 L352.73 569.76 M355.83 569.76 L360.47 569.76 M253.66 599.67 L254.43 601.99 L254.43 597.35 L253.66 599.67 L252.11 598.12 L249.79 597.35 L248.24 597.35 L245.92 598.12 L244.37 599.67 L243.60 601.22 L242.82 603.54 L242.82 607.41 L243.60 609.73 L244.37 611.28 L245.92 612.83 L248.24 613.60 L249.79 613.60 L252.11 612.83 L253.66 611.28 L254.43 609.73 M248.24 597.35 L246.69 598.12 L245.14 599.67 L244.37 601.22 L243.60 603.54 L243.60 607.41 L244.37 609.73 L245.14 611.28 L246.69 612.83 L248.24 613.60 M260.62 597.35 L260.62 613.60 M261.40 597.35 L266.04 611.28 M260.62 597.35 L266.04 613.60 M271.46 597.35 L266.04 613.60 M271.46 597.35 L271.46 613.60 M272.23 597.35 L272.23 613.60 M258.30 597.35 L261.40 597.35 M271.46 597.35 L274.56 597.35 M258.30 613.60 L262.95 613.60 M269.14 613.60 L274.56 613.60 M279.97 597.35 L279.97 613.60 M280.75 597.35 L280.75 613.60 M277.65 597.35 L286.94 597.35 L289.26 598.12 L290.04 598.89 L290.81 600.44 L290.81 601.99 L290.04 603.54 L289.26 604.31 L286.94 605.09 M286.94 597.35 L288.49 598.12 L289.26 598.89 L290.04 600.44 L290.04 601.99 L289.26 603.54 L288.49 604.31 L286.94 605.09 M280.75 605.09 L286.94 605.09 L289.26 605.86 L290.04 606.63 L290.81 608.18 L290.81 610.50 L290.04 612.05 L289.26 612.83 L286.94 613.60 L277.65 613.60 M286.94 605.09 L288.49 605.86 L289.26 606.63 L290.04 608.18 L290.04 610.50 L289.26 612.05 L288.49 612.83 L286.94 613.60 M315.58 599.67 L315.58 613.60 M308.61 606.63 L322.54 606.63 M346.54 597.35 L344.99 598.12 L344.22 598.89 L344.22 599.67 L344.99 600.44 L347.31 601.22 L349.63 601.22 M347.31 601.22 L344.22 601.99 L342.67 602.76 L341.89 604.31 L341.89 605.86 L343.44 607.41 L345.76 608.18 L348.09 608.18 M347.31 601.22 L344.99 601.99 L343.44 602.76 L342.67 604.31 L342.67 605.86 L344.22 607.41 L345.76 608.18 M345.76 608.18 L342.67 608.96 L341.12 609.73 L340.35 611.28 L340.35 612.83 L341.89 614.37 L345.76 615.92 L346.54 616.70 L346.54 618.24 L344.99 619.02 L343.44 619.02 M345.76 608.18 L343.44 608.96 L341.89 609.73 L341.12 611.28 L341.12 612.83 L342.67 614.37 L345.76 615.92 M359.70 594.25 L358.15 595.80 L356.60 598.12 L355.05 601.22 L354.28 605.09 L354.28 608.18 L355.05 612.05 L356.60 615.15 L358.15 617.47 L359.70 619.02 M358.15 595.80 L356.60 598.89 L355.83 601.22 L355.05 605.09 L355.05 608.18 L355.83 612.05 L356.60 614.37 L358.15 617.47 M372.08 604.31 L372.85 602.76 L372.85 605.86 L372.08 604.31 L371.31 603.54 L369.76 602.76 L366.66 602.76 L365.11 603.54 L364.34 604.31 L364.34 605.86 L365.11 606.63 L366.66 607.41 L370.53 608.96 L372.08 609.73 L372.85 610.50 M364.34 605.09 L365.11 605.86 L366.66 606.63 L370.53 608.18 L372.08 608.96 L372.85 609.73 L372.85 612.05 L372.08 612.83 L370.53 613.60 L367.44 613.60 L365.89 612.83 L365.11 612.05 L364.34 610.50 L364.34 613.60 L365.11 612.05 M377.50 594.25 L379.05 595.80 L380.59 598.12 L382.14 601.22 L382.92 605.09 L382.92 608.18 L382.14 612.05 L380.59 615.15 L379.05 617.47 L377.50 619.02 M379.05 595.80 L380.59 598.89 L381.37 601.22 L382.14 605.09 L382.14 608.18 L381.37 612.05 L380.59 614.37 L379.05 617.47 M253.66 632.67 L254.43 634.99 L254.43 630.35 L253.66 632.67 L252.11 631.12 L249.79 630.35 L248.24 630.35 L245.92 631.12 L244.37 632.67 L243.60 634.22 L242.82 636.54 L242.82 640.41 L243.60 642.73 L244.37 644.28 L245.92 645.83 L248.24 646.60 L249.79 646.60 L252.11 645.83 L253.66 644.28 L254.43 642.73 M248.24 630.35 L246.69 631.12 L245.14 632.67 L244.37 634.22 L243.60 636.54 L243.60 640.41 L244.37 642.73 L245.14 644.28 L246.69 645.83 L248.24 646.60 M260.62 630.35 L260.62 646.60 M261.40 630.35 L266.04 644.28 M260.62 630.35 L266.04 646.60 M271.46 630.35 L266.04 646.60 M271.46 630.35 L271.46 646.60 M272.23 630.35 L272.23 646.60 M258.30 630.35 L261.40 630.35 M271.46 630.35 L274.56 630.35 M258.30 646.60 L262.95 646.60 M269.14 646.60 L274.56 646.60 M279.97 630.35 L279.97 646.60 M280.75 630.35 L280.75 646.60 M277.65 630.35 L286.94 630.35 L289.26 631.12 L290.04 631.89 L290.81 633.44 L290.81 634.99 L290.04 636.54 L289.26 637.31 L286.94 638.09 M286.94 630.35 L288.49 631.12 L289.26 631.89 L290.04 633.44 L290.04 634.99 L289.26 636.54 L288.49 637.31 L286.94 638.09 M280.75 638.09 L286.94 638.09 L289.26 638.86 L290.04 639.63 L290.81 641.18 L290.81 643.50 L290.04 645.05 L289.26 645.83 L286.94 646.60 L277.65 646.60 M286.94 638.09 L288.49 638.86 L289.26 639.63 L290.04 641.18 L290.04 643.50 L289.26 645.05 L288.49 645.83 L286.94 646.60 M315.58 632.67 L315.58 646.60 M308.61 639.63 L322.54 639.63 M346.54 630.35 L344.99 631.12 L344.22 631.89 L344.22 632.67 L344.99 633.44 L347.31 634.22 L349.63 634.22 M347.31 634.22 L344.22 634.99 L342.67 635.76 L341.89 637.31 L341.89 638.86 L343.44 640.41 L345.76 641.18 L348.09 641.18 M347.31 634.22 L344.99 634.99 L343.44 635.76 L342.67 637.31 L342.67 638.86 L344.22 640.41 L345.76 641.18 M345.76 641.18 L342.67 641.96 L341.12 642.73 L340.35 644.28 L340.35 645.83 L341.89 647.37 L345.76 648.92 L346.54 649.70 L346.54 651.24 L344.99 652.02 L343.44 652.02 M345.76 641.18 L343.44 641.96 L341.89 642.73 L341.12 644.28 L341.12 645.83 L342.67 647.37 L345.76 648.92 M359.70 627.25 L358.15 628.80 L356.60 631.12 L355.05 634.22 L354.28 638.09 L354.28 641.18 L355.05 645.05 L356.60 648.15 L358.15 650.47 L359.70 652.02 M358.15 628.80 L356.60 631.89 L355.83 634.22 L355.05 638.09 L355.05 641.18 L355.83 645.05 L356.60 647.37 L358.15 650.47 M372.08 637.31 L372.85 635.76 L372.85 638.86 L372.08 637.31 L371.31 636.54 L369.76 635.76 L366.66 635.76 L365.11 636.54 L364.34 637.31 L364.34 638.86 L365.11 639.63 L366.66 640.41 L370.53 641.96 L372.08 642.73 L372.85 643.50 M364.34 638.09 L365.11 638.86 L366.66 639.63 L370.53 641.18 L372.08 641.96 L372.85 642.73 L372.85 645.05 L372.08 645.83 L370.53 646.60 L367.44 646.60 L365.89 645.83 L365.11 645.05 L364.34 643.50 L364.34 646.60 L365.11 645.05 M377.50 627.25 L379.05 628.80 L380.59 631.12 L382.14 634.22 L382.92 638.09 L382.92 641.18 L382.14 645.05 L380.59 648.15 L379.05 650.47 L377.50 652.02 M379.05 628.80 L380.59 631.89 L381.37 634.22 L382.14 638.09 L382.14 641.18 L381.37 645.05 L380.59 647.37 L379.05 650.47 M233.86 661.87 L233.86 675.80 M226.90 668.83 L240.83 668.83 M260.18 664.96 L260.18 675.80 M260.95 664.96 L260.95 675.80 M260.95 669.61 L261.73 667.29 L263.27 665.74 L264.82 664.96 L267.14 664.96 L267.92 665.74 L267.92 666.51 L267.14 667.29 L266.37 666.51 L267.14 665.74 M257.86 664.96 L260.95 664.96 M257.86 675.80 L263.27 675.80 M273.34 659.55 L273.34 675.80 M274.11 659.55 L274.11 675.80 M271.01 659.55 L280.30 659.55 L282.62 660.32 L283.40 661.09 L284.17 662.64 L284.17 664.19 L283.40 665.74 L282.62 666.51 L280.30 667.29 M280.30 659.55 L281.85 660.32 L282.62 661.09 L283.40 662.64 L283.40 664.19 L282.62 665.74 L281.85 666.51 L280.30 667.29 M274.11 667.29 L280.30 667.29 L282.62 668.06 L283.40 668.83 L284.17 670.38 L284.17 672.70 L283.40 674.25 L282.62 675.03 L280.30 675.80 L271.01 675.80 M280.30 667.29 L281.85 668.06 L282.62 668.83 L283.40 670.38 L283.40 672.70 L282.62 674.25 L281.85 675.03 L280.30 675.80 M294.23 659.55 L288.82 675.80 M294.23 659.55 L299.65 675.80 M294.23 661.87 L298.88 675.80 M290.36 671.16 L297.33 671.16 M287.27 675.80 L291.91 675.80 M296.56 675.80 L301.20 675.80 M309.71 659.55 L307.39 660.32 L305.84 661.87 L305.07 663.42 L304.30 666.51 L304.30 668.83 L305.07 671.93 L305.84 673.48 L307.39 675.03 L309.71 675.80 L311.26 675.80 L313.58 675.03 L315.13 673.48 L315.91 671.93 L316.68 668.83 L316.68 666.51 L315.91 663.42 L315.13 661.87 L313.58 660.32 L311.26 659.55 L309.71 659.55 M309.71 659.55 L308.17 660.32 L306.62 661.87 L305.84 663.42 L305.07 666.51 L305.07 668.83 L305.84 671.93 L306.62 673.48 L308.17 675.03 L309.71 675.80 M311.26 675.80 L312.81 675.03 L314.36 673.48 L315.13 671.93 L315.91 668.83 L315.91 666.51 L315.13 663.42 L314.36 661.87 L312.81 660.32 L311.26 659.55 M329.06 661.87 L329.06 675.80 M322.10 668.83 L336.03 668.83 M363.89 661.87 L364.67 659.55 L364.67 664.19 L363.89 661.87 L362.35 660.32 L360.02 659.55 L357.70 659.55 L355.38 660.32 L353.83 661.87 L353.83 663.42 L354.61 664.96 L355.38 665.74 L356.93 666.51 L361.57 668.06 L363.12 668.83 L364.67 670.38 M353.83 663.42 L355.38 664.96 L356.93 665.74 L361.57 667.29 L363.12 668.06 L363.89 668.83 L364.67 670.38 L364.67 673.48 L363.12 675.03 L360.80 675.80 L358.48 675.80 L356.15 675.03 L354.61 673.48 L353.83 671.16 L353.83 675.80 L354.61 673.48 M370.86 659.55 L370.86 675.80 M371.63 659.55 L380.92 674.25 M371.63 661.09 L380.92 675.80 M380.92 659.55 L380.92 675.80 M368.54 659.55 L371.63 659.55 M378.60 659.55 L383.24 659.55 M368.54 675.80 L373.18 675.80 M575.60 100.96 L578.69 111.80 M576.37 100.96 L578.69 109.48 M581.79 100.96 L578.69 111.80 M581.79 100.96 L584.88 111.80 M582.56 100.96 L584.88 109.48 M587.98 100.96 L584.88 111.80 M573.27 100.96 L578.69 100.96 M585.66 100.96 L590.30 100.96 M598.24 108.85 L595.92 109.62 L594.37 111.94 L593.60 115.81 L593.60 118.13 L594.37 122.00 L595.92 124.33 L598.24 125.10 L599.79 125.10 L602.11 124.33 L603.66 122.00 L604.43 118.13 L604.43 115.81 L603.66 111.94 L602.11 109.62 L599.79 108.85 L598.24 108.85 M598.24 108.85 L596.69 109.62 L595.92 110.39 L595.15 111.94 L594.37 115.81 L594.37 118.13 L595.15 122.00 L595.92 123.55 L596.69 124.33 L598.24 125.10 M599.79 125.10 L601.34 124.33 L602.11 123.55 L602.89 122.00 L603.66 118.13 L603.66 115.81 L602.89 111.94 L602.11 110.39 L601.34 109.62 L599.79 108.85 M631.05 97.87 L631.05 111.80 M624.09 104.83 L638.02 104.83 M660.46 95.55 L658.14 96.32 L656.59 98.64 L655.82 102.51 L655.82 104.83 L656.59 108.70 L658.14 111.03 L660.46 111.80 L662.01 111.80 L664.33 111.03 L665.88 108.70 L666.66 104.83 L666.66 102.51 L665.88 98.64 L664.33 96.32 L662.01 95.55 L660.46 95.55 M660.46 95.55 L658.92 96.32 L658.14 97.09 L657.37 98.64 L656.59 102.51 L656.59 104.83 L657.37 108.70 L658.14 110.25 L658.92 111.03 L660.46 111.80 M662.01 111.80 L663.56 111.03 L664.33 110.25 L665.11 108.70 L665.88 104.83 L665.88 102.51 L665.11 98.64 L664.33 97.09 L663.56 96.32 L662.01 95.55 M672.85 110.25 L672.07 111.03 L672.85 111.80 L673.62 111.03 L672.85 110.25 M679.81 98.64 L680.59 99.42 L679.81 100.19 L679.04 99.42 L679.04 98.64 L679.81 97.09 L680.59 96.32 L682.91 95.55 L686.01 95.55 L688.33 96.32 L689.10 97.09 L689.88 98.64 L689.88 100.19 L689.10 101.74 L686.78 103.29 L682.91 104.83 L681.36 105.61 L679.81 107.16 L679.04 109.48 L679.04 111.80 M686.01 95.55 L687.55 96.32 L688.33 97.09 L689.10 98.64 L689.10 100.19 L688.33 101.74 L686.01 103.29 L682.91 104.83 M679.04 110.25 L679.81 109.48 L681.36 109.48 L685.23 111.03 L687.55 111.03 L689.10 110.25 L689.88 109.48 M681.36 109.48 L685.23 111.80 L688.33 111.80 L689.10 111.03 L689.88 109.48 L689.88 107.93 M698.39 95.55 L696.07 96.32 L695.29 97.87 L695.29 100.19 L696.07 101.74 L698.39 102.51 L701.49 102.51 L703.81 101.74 L704.58 100.19 L704.58 97.87 L703.81 96.32 L701.49 95.55 L698.39 95.55 M698.39 95.55 L696.84 96.32 L696.07 97.87 L696.07 100.19 L696.84 101.74 L698.39 102.51 M701.49 102.51 L703.03 101.74 L703.81 100.19 L703.81 97.87 L703.03 96.32 L701.49 95.55 M698.39 102.51 L696.07 103.29 L695.29 104.06 L694.52 105.61 L694.52 108.70 L695.29 110.25 L696.07 111.03 L698.39 111.80 L701.49 111.80 L703.81 111.03 L704.58 110.25 L705.36 108.70 L705.36 105.61 L704.58 104.06 L703.81 103.29 L701.49 102.51 M698.39 102.51 L696.84 103.29 L696.07 104.06 L695.29 105.61 L695.29 108.70 L696.07 110.25 L696.84 111.03 L698.39 111.80 M701.49 111.80 L703.03 111.03 L703.81 110.25 L704.58 108.70 L704.58 105.61 L703.81 104.06 L703.03 103.29 L701.49 102.51 M723.16 100.96 L726.25 111.80 M723.93 100.96 L726.25 109.48 M729.35 100.96 L726.25 111.80 M729.35 100.96 L732.45 111.80 M730.12 100.96 L732.45 109.48 M735.54 100.96 L732.45 111.80 M720.84 100.96 L726.25 100.96 M733.22 100.96 L737.86 100.96 M742.71 115.81 L742.71 116.59 L741.93 116.59 L741.93 115.81 L742.71 115.04 L744.26 114.26 L747.35 114.26 L748.90 115.04 L749.67 115.81 L750.45 117.36 L750.45 122.78 L751.22 124.33 L752.00 125.10 M749.67 115.81 L749.67 122.78 L750.45 124.33 L752.00 125.10 L752.77 125.10 M749.67 117.36 L748.90 118.13 L744.26 118.91 L741.93 119.68 L741.16 121.23 L741.16 122.78 L741.93 124.33 L744.26 125.10 L746.58 125.10 L748.13 124.33 L749.67 122.78 M744.26 118.91 L742.71 119.68 L741.93 121.23 L741.93 122.78 L742.71 124.33 L744.26 125.10" fill="none" stroke="#000" stroke-width="0.95" stroke-opacity="0.62" stroke-linecap="round" stroke-linejoin="round"/>
<circle cx="135.08" cy="743.74" r="1.15" fill="#000" fill-opacity="0.62"/>
<circle cx="301.43" cy="743.74" r="1.15" fill="#000" fill-opacity="0.62"/>
<circle cx="467.78" cy="743.74" r="1.15" fill="#000" fill-opacity="0.62"/>
<circle cx="634.13" cy="743.74" r="1.15" fill="#000" fill-opacity="0.62"/>
<circle cx="789.30" cy="743.74" r="1.15" fill="#000" fill-opacity="0.62"/>
<circle cx="672.85" cy="111.03" r="1.03" fill="#000" fill-opacity="0.62"/>
<path transform="translate(51.30 389.80) rotate(-90)" d="M3.44 -12.04 L6.88 0.00 M4.30 -12.04 L6.88 -2.58 M10.32 -12.04 L6.88 0.00 M10.32 -12.04 L13.76 0.00 M11.18 -12.04 L13.76 -2.58 M17.20 -12.04 L13.76 0.00 M0.86 -12.04 L6.88 -12.04 M14.62 -12.04 L19.78 -12.04 M24.11 0.90 L24.11 1.43 L23.57 1.43 L23.57 0.90 L24.11 0.37 L25.17 -0.16 L27.31 -0.16 L28.37 0.37 L28.90 0.90 L29.44 1.97 L29.44 5.70 L29.97 6.77 L30.50 7.30 M28.90 0.90 L28.90 5.70 L29.44 6.77 L30.50 7.30 L31.04 7.30 M28.90 1.97 L28.37 2.50 L25.17 3.03 L23.57 3.57 L23.04 4.63 L23.04 5.70 L23.57 6.77 L25.17 7.30 L26.77 7.30 L27.84 6.77 L28.90 5.70 M25.17 3.03 L24.11 3.57 L23.57 4.63 L23.57 5.70 L24.11 6.77 L25.17 7.30" fill="none" stroke="#000" stroke-width="0.95" stroke-opacity="0.62" stroke-linecap="round" stroke-linejoin="round"/>
<path d="M158.0 572.0 H224.8" stroke="#00229c" stroke-width="1.90" stroke-dasharray="8.8 7.7" fill="none"/>
<path d="M158.0 605.3 H224.8" stroke="#a80a0a" stroke-width="1.90" fill="none"/>
<path d="M158.0 638.7 H224.8" stroke="#2a8506" stroke-width="1.90" stroke-dasharray="8.5 4.0 2.4 3.9" fill="none"/>
<path d="M490.6 106.3 H558" stroke="#000" stroke-width="1.5" stroke-dasharray="1.5 3.92" fill="none"/>
</svg></body></html>
